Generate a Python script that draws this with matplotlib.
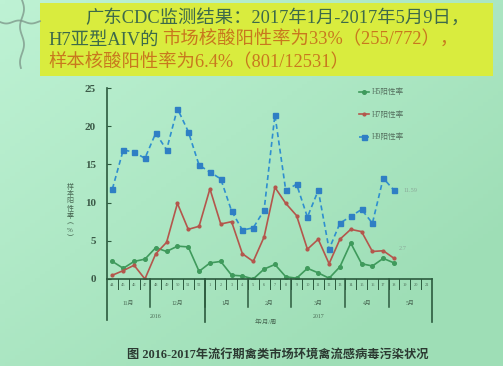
import numpy as np
import matplotlib
matplotlib.use("Agg")
import matplotlib.pyplot as plt
from matplotlib.patches import Rectangle

plt.rcParams['font.family'] = ['Liberation Serif', 'Noto Sans CJK SC', 'DejaVu Sans']

# ---- data ----
week_labels = ['44', '45', '46', '47', '48', '49', '50', '51', '52',
               '1', '2', '3', '4', '5', '6', '7', '8', '9', '10', '11', '12', '13',
               '14', '15', '16', '17', '18', '19', '20', '21']
month_labels = ['11月', '12月', '1月', '2月', '3月', '4月', '5月']
month_sizes = [4, 5, 4, 4, 5, 4, 4]
year_labels = ['2016', '2017']
year_sizes = [9, 21]

h5 = [2.3, 1.4, 2.3, 2.6, 4.1, 3.6, 4.3, 4.2, 1.0, 2.1, 2.3, 0.5, 0.4, 0.0, 1.3,
      1.9, 0.3, 0.1, 1.4, 0.8, 0.1, 1.6, 4.7, 2.0, 1.7, 2.7, 2.1]
h7 = [0.5, 1.1, 1.8, 0.0, 3.3, 4.8, 9.9, 6.5, 6.9, 11.8, 7.2, 7.5, 3.3, 2.3, 5.5,
      12.0, 9.9, 8.3, 3.9, 5.2, 2.0, 5.2, 6.5, 6.2, 3.6, 3.7, 2.7]
h9 = [11.8, 16.9, 16.6, 15.8, 19.1, 16.9, 22.3, 19.3, 14.9, 14.0, 13.1, 8.9, 6.4, 6.7, 9.0,
      21.5, 11.6, 12.4, 8.1, 11.6, 3.9, 7.3, 8.2, 9.1, 7.3, 13.2, 11.6]
series_names = ['H5阳性率', 'H7阳性率', 'H9阳性率']
yticks = [0, 5, 10, 15, 20, 25]
ylabel_chars = ['样', '本', '阳', '性', '率', '︵', '%', '︶']

W, H = 503, 366
fig = plt.figure(figsize=(W / 100, H / 100), dpi=100)

# background gradient
bg = fig.add_axes([0, 0, 1, 1], zorder=-10)
yy, xx = np.mgrid[0:1:100j, 0:1:100j]
t = np.clip(0.6 * xx + 0.6 * yy, 0, 1)
c1 = np.array([190, 242, 212]) / 255
c2 = np.array([158, 222, 182]) / 255
img = c1[None, None, :] * (1 - t[..., None]) + c2[None, None, :] * t[..., None]
bg.imshow(img, extent=[0, 1, 0, 1], aspect='auto', origin='upper')
bg.set_xlim(0, 1); bg.set_ylim(0, 1)
bg.axis('off')

def fx(px):
    return px / W

def fy(py):
    return 1 - py / H

# yellow box
fig.patches.append(Rectangle((fx(40), fy(76)), fx(493) - fx(40), fy(3) - fy(76),
                             transform=fig.transFigure, facecolor='#d9ec3e',
                             edgecolor='none', zorder=1))
# decorative squiggle
sx = np.linspace(0, 1, 60)
fig.add_artist(plt.Line2D(fx(22 + 2 * np.sin(sx * 12)), fy(sx * 68), transform=fig.transFigure,
                          color='#7f9a8c', lw=1.3, alpha=0.8))
fig.add_artist(plt.Line2D(fx(sx * 40), fy(22 + 1.5 * np.sin(sx * 10)), transform=fig.transFigure,
                          color='#7f9a8c', lw=1.3, alpha=0.8))

dk = '#3d6a4a'
org = '#c8781e'
fs_top = 13.2
fig.text(fx(85), fy(18), '广东CDC监测结果：2017年1月-2017年5月9日，', fontsize=fs_top,
         color=dk, va='center', ha='left', zorder=2)
t2a = fig.text(fx(48), fy(40), 'H7亚型AIV的', fontsize=fs_top, color=dk, va='center',
               ha='left', zorder=2)
renderer = fig.canvas.get_renderer()
bb = t2a.get_window_extent(renderer)
fig.text(fx(bb.x1 + 4), fy(40), '市场核酸阳性率为33%（255/772），', fontsize=fs_top, color=org,
         va='center', ha='left', zorder=2)
fig.text(fx(48), fy(62), '样本核酸阳性率为6.4%（801/12531）', fontsize=fs_top, color=org,
         va='center', ha='left', zorder=2)

# main axes
ax = fig.add_axes([fx(107), fy(279), fx(432) - fx(107), fy(88) - fy(279)])
ax.set_facecolor('none')
n = len(week_labels)
x = np.arange(len(h9)) + 0.5
ax.plot(x, h5, color='#3f9a5c', lw=1.2, marker='o', ms=2.6, label=series_names[0])
ax.plot(x, h7, color='#b4564c', lw=1.2, marker='o', ms=2.0, label=series_names[1])
ax.plot(x, h9, color='#2f8fcf', lw=1.2, ls=(0, (3, 2)), marker='s', ms=3.6,
        markerfacecolor='#2f7fc4', markeredgecolor='#2f7fc4', label=series_names[2])
ax.set_xlim(0, n)
ax.set_ylim(0, 25)
ax.set_yticks(yticks)
ax.set_xticks([])
for s in ['top', 'right']:
    ax.spines[s].set_visible(False)
axc = '#2c5a3e'
ax.spines['left'].set_color(axc)
ax.spines['bottom'].set_color(axc)
ax.spines['left'].set_linewidth(1.2)
ax.spines['bottom'].set_linewidth(1.2)
ax.tick_params(axis='y', direction='in', length=3, color=axc, labelsize=8,
               labelcolor='#3c5a48', pad=8)
for lab in ax.get_yticklabels():
    lab.set_fontweight('bold')

ax.text(x[-1] + 0.9, h9[-1], '11.59', fontsize=4.5, color='#8aa898', va='center')
ax.text(x[-1] + 0.4, h7[-1] + 1.3, '2.7', fontsize=4.5, color='#8aa898', va='center')

leg = ax.legend(loc='upper left', bbox_to_anchor=(0.755, 1.035), frameon=False, fontsize=5.5,
                handlelength=1.3, labelspacing=1.9, handletextpad=0.4, labelcolor='#55705f')

# hierarchical x axis
tr = ax.get_xaxis_transform()
ppy = 1.0 / (279 - 88)
for i in range(1, n):
    ax.plot([i, i], [0, -10 * ppy], transform=tr, color=axc, lw=0.7, clip_on=False)
for i, lab in enumerate(week_labels):
    ax.text(i + 0.5, -5.5 * ppy, lab, transform=tr, fontsize=3.2, color='#4a6a55',
            ha='center', va='center', clip_on=False)
pos = 0
for lab, sz in zip(month_labels, month_sizes):
    ax.text(pos + sz / 2, -24 * ppy, lab, transform=tr, fontsize=4.2, color='#4a6a55',
            ha='center', va='center', clip_on=False)
    pos += sz
    if pos < n:
        ax.plot([pos, pos], [0, -28 * ppy], transform=tr, color=axc, lw=1.1, clip_on=False)
pos = 0
ax.plot([0, 0], [0, -41 * ppy], transform=tr, color=axc, lw=1.2, clip_on=False)
for lab, sz in zip(year_labels, year_sizes):
    ax.text(pos + sz / 2, -37 * ppy, lab, transform=tr, fontsize=4.2, color='#4a6a55',
            ha='center', va='center', clip_on=False)
    pos += sz
    ax.plot([pos, pos], [0, -43 * ppy], transform=tr, color=axc, lw=1.2, clip_on=False)
ax.text(14.7, -43 * ppy, '年/月/周', transform=tr, fontsize=4.5, color='#4a6a55',
        ha='center', va='center', clip_on=False)

# y label stacked, one upright character per row
for k, ch in enumerate(ylabel_chars):
    fig.text(fx(70), fy(186 + k * 7.5), ch, fontsize=5, color='#4a6a55',
             ha='center', va='center', rotation=0)

# caption
fig.text(fx(278), fy(355), '图 2016-2017年流行期禽类市场环境禽流感病毒污染状况', fontsize=8.8,
         fontweight='bold', color='#2c3a32', ha='center', va='center')

fig.savefig('out.png', dpi=100)
